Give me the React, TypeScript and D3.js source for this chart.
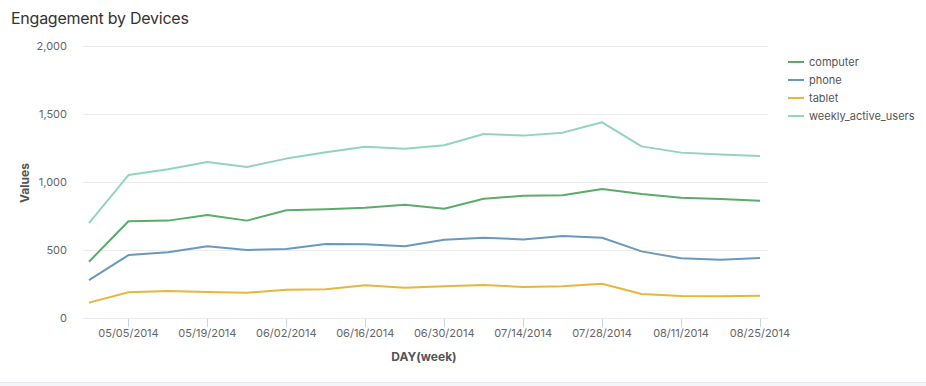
import { FC, useEffect } from "react";
import * as d3 from "d3";

const weeks = [
    "2014-04-28", "2014-05-05", "2014-05-12", "2014-05-19", "2014-05-26", "2014-06-02",
    "2014-06-09", "2014-06-16", "2014-06-23", "2014-06-30", "2014-07-07", "2014-07-14",
    "2014-07-21", "2014-07-28", "2014-08-04", "2014-08-11", "2014-08-18", "2014-08-25"
];

const computer = [414, 711, 716, 757, 716, 792, 799, 811, 833, 804, 877, 899, 902, 949, 912, 885, 875, 863];
const phone = [279, 463, 483, 527, 500, 507, 544, 542, 527, 576, 590, 578, 603, 590, 490, 439, 429, 441];
const tablet = [113, 189, 199, 191, 186, 208, 211, 240, 223, 233, 243, 228, 233, 252, 176, 162, 160, 164];
const weeklyActiveUsers = [698, 1051, 1093, 1147, 1110, 1172, 1218, 1260, 1245, 1270, 1353, 1341, 1363, 1439, 1262, 1216, 1203, 1191];

const tickDates = [
    "2014-05-05", "2014-05-19", "2014-06-02", "2014-06-16", "2014-06-30",
    "2014-07-14", "2014-07-28", "2014-08-11", "2014-08-25"
];
const yTicks = [0, 500, 1000, 1500, 2000];

const seriesNames = ["computer", "phone", "tablet", "weekly_active_users"];
const seriesColors = ["#5aac6a", "#6b98bd", "#e8b63c", "#92d4c0"];

const FONT = "Inter, 'Open Sans', sans-serif";

const App: FC = () => {

    useEffect(() => {
        d3.select("#chart").selectAll("*").remove();

        var width = 926, height = 386;
        var parse = d3.timeParse("%Y-%m-%d");
        var dates = weeks.map(d => parse(d) as Date);
        var allSeries = [computer, phone, tablet, weeklyActiveUsers];

        var svg = d3.select("#chart").append("svg")
            .attr("width", width)
            .attr("height", height)
            .style("position", "absolute")
            .style("left", "0px")
            .style("top", "0px")
            .style("font-family", FONT);

        svg.append("rect").attr("width", width).attr("height", height).attr("fill", "#fff");

        // bottom strip
        svg.append("rect").attr("x", 0).attr("y", 383).attr("width", width).attr("height", 3).attr("fill", "#f4f5f8");
        svg.append("line").attr("x1", 0).attr("x2", width).attr("y1", 382.5).attr("y2", 382.5)
            .attr("stroke", "#e6e8ee");

        // title
        svg.append("text")
            .attr("x", 11).attr("y", 24)
            .attr("font-size", 16)
            .attr("letter-spacing", -0.25)
            .attr("fill", "#333")
            .text("Engagement by Devices");

        var x = d3.scaleTime()
            .domain(d3.extent(dates) as [Date, Date])
            .range([89, 760]);

        var y = d3.scaleLinear()
            .domain([0, 2000])
            .range([318, 46]);

        // grid + y axis labels
        var gy = svg.append("g");
        gy.selectAll("line")
            .data(yTicks)
            .enter()
            .append("line")
            .attr("x1", 83).attr("x2", 768)
            .attr("y1", d => y(d) + 0.5).attr("y2", d => y(d) + 0.5)
            .attr("stroke", "#ececec");
        gy.selectAll("text")
            .data(yTicks)
            .enter()
            .append("text")
            .attr("x", 67)
            .attr("y", d => y(d) + 4)
            .attr("text-anchor", "end")
            .attr("font-size", 11)
            .attr("fill", "#666")
            .text(d => d3.format(",")(d));

        // x axis
        var fmt = d3.timeFormat("%m/%d/%Y");
        var ticks = tickDates.map(d => parse(d) as Date);
        var gx = svg.append("g");
        gx.selectAll("line")
            .data(ticks)
            .enter()
            .append("line")
            .attr("x1", d => Math.round(x(d)) + 0.5).attr("x2", d => Math.round(x(d)) + 0.5)
            .attr("y1", 319).attr("y2", 327)
            .attr("stroke", "#c8d4e8");
        gx.selectAll("text")
            .data(ticks)
            .enter()
            .append("text")
            .attr("x", d => x(d))
            .attr("y", 337)
            .attr("text-anchor", "middle")
            .attr("font-size", 11)
            .attr("fill", "#666")
            .text(d => fmt(d));

        // axis titles
        svg.append("text")
            .attr("x", 424).attr("y", 361)
            .attr("text-anchor", "middle")
            .attr("font-size", 12)
            .attr("font-weight", "bold")
            .attr("fill", "#555")
            .text("DAY(week)");
        svg.append("text")
            .attr("transform", "translate(29,183) rotate(-90)")
            .attr("text-anchor", "middle")
            .attr("font-size", 12)
            .attr("font-weight", "bold")
            .attr("fill", "#555")
            .text("Values");

        // lines
        var line = d3.line<number>()
            .x((_, i) => x(dates[i]))
            .y(d => y(d));

        svg.selectAll(".series")
            .data(allSeries)
            .enter()
            .append("path")
            .attr("fill", "none")
            .attr("stroke", (_, i) => seriesColors[i])
            .attr("stroke-width", 2)
            .attr("stroke-linejoin", "round")
            .attr("d", d => line(d));

        // legend
        var legend = svg.append("g").attr("transform", "translate(788,62)");
        var items = legend.selectAll("g")
            .data(seriesNames)
            .enter()
            .append("g")
            .attr("transform", (_, i) => "translate(0," + i * 18 + ")");
        items.append("line")
            .attr("x1", 0).attr("x2", 16)
            .attr("y1", 0).attr("y2", 0)
            .attr("stroke", (_, i) => seriesColors[i])
            .attr("stroke-width", 2);
        items.append("text")
            .attr("x", 21).attr("y", 4)
            .attr("font-size", 11)
            .attr("fill", "#555")
            .text(d => d);
    }, []);

    return (<div id="chart"></div>)
};

export default App;
